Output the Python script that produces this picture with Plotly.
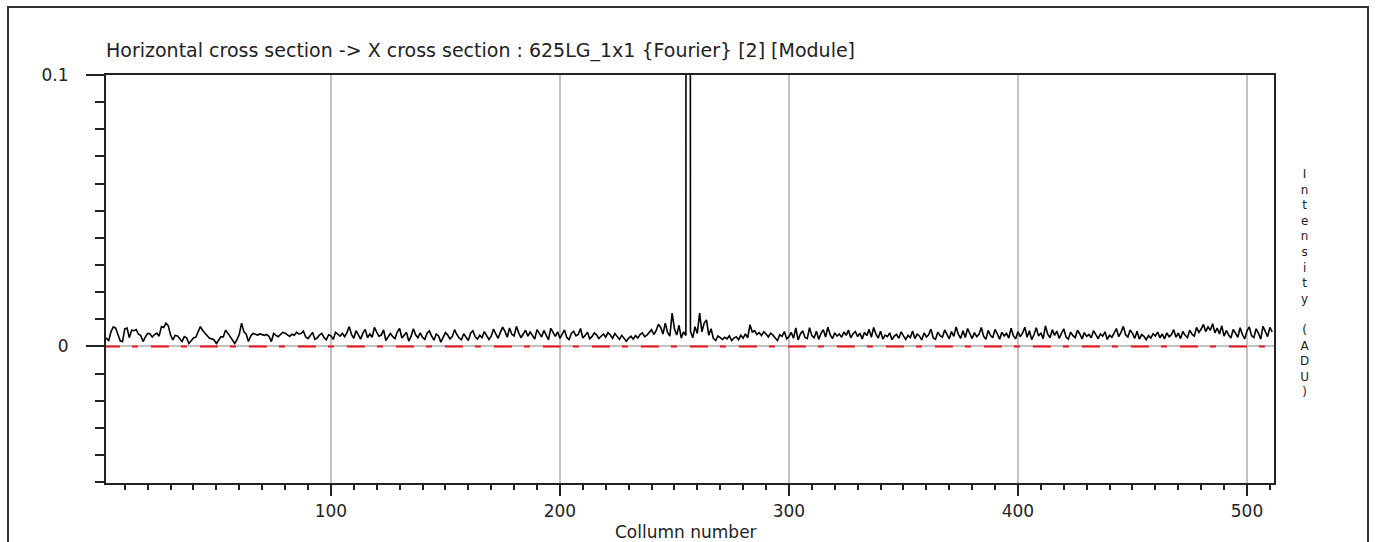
import numpy as np
import plotly.graph_objects as go

# Fourier module of the horizontal cross section, in milli-ADU, one value per column
module_mADU = [
    2.6, 2.4, 3.0, 2.2, 5.5, 7.2, 6.8, 4.0, 2.1, 1.8, 6.5, 6.8, 3.2, 6.0, 5.8, 6.2,
    4.5, 4.0, 1.8, 3.5, 4.8, 4.6, 3.5, 4.4, 4.9, 3.8, 7.3, 7.0, 8.6, 7.6, 4.2, 2.4,
    4.1, 3.9, 2.6, 1.8, 3.6, 3.2, 1.1, 2.0, 3.1, 3.4, 5.2, 7.3, 5.9, 4.8, 4.1, 3.0,
    2.8, 2.4, 1.1, 2.2, 3.6, 3.5, 6.0, 4.9, 3.6, 2.7, 1.1, 2.5, 4.5, 8.6, 5.4, 4.6,
    1.8, 3.9, 4.8, 4.5, 4.2, 4.6, 4.3, 4.1, 4.4, 3.7, 1.8, 4.8, 4.1, 3.6, 4.4, 5.2,
    4.9, 4.3, 3.7, 4.5, 4.1, 5.2, 4.6, 4.8, 5.6, 3.5, 2.9, 4.0, 5.2, 2.6, 3.1, 4.2,
    4.8, 3.3, 2.4, 4.3, 3.9, 2.6, 5.2, 4.5, 3.8, 4.8, 3.6, 5.1, 7.3, 4.4, 3.0, 5.8,
    4.1, 2.7, 5.0, 6.3, 3.2, 4.6, 3.4, 7.0, 5.3, 3.8, 4.2, 6.1, 2.2, 3.5, 4.8, 3.6,
    2.9, 5.4, 6.6, 3.1, 4.4, 5.2, 2.0, 3.7, 6.5, 4.3, 3.2, 5.0, 3.4, 2.6, 4.9, 5.7,
    3.8, 2.3, 4.6, 3.9, 1.6, 3.3, 5.1, 4.2, 2.8, 3.6, 6.2, 4.4, 3.1, 2.5, 4.7, 3.4,
    2.2, 4.9, 5.8, 3.6, 2.7, 4.1, 3.3, 5.5, 4.0, 2.6, 3.8, 6.4, 4.6, 3.0, 5.2, 7.1,
    5.6, 3.4, 6.8, 4.5, 3.9, 7.4, 5.0, 3.2, 4.6, 6.0, 3.8, 5.3, 4.1, 2.7, 6.2, 4.8,
    3.5, 5.9, 4.2, 2.4, 6.7, 4.9, 3.7, 5.4, 3.0, 4.5, 6.1, 3.3, 2.5, 4.8, 5.6, 3.9,
    4.4, 6.6, 3.1, 4.0, 5.3, 2.8, 3.6, 5.0, 4.3, 2.9, 3.8, 4.6, 3.4, 5.1, 4.2, 3.0,
    4.8, 3.5, 2.6, 4.1, 3.2, 1.9, 3.0, 3.8, 2.7, 4.0, 3.1, 4.4, 5.0, 3.6, 4.2, 5.3,
    6.2, 4.4, 5.8, 8.2, 7.0, 4.6, 8.6, 5.2, 3.8, 12.3, 6.5, 4.2, 7.8, 3.1, 5.4, 4.0,
    2500.0, 5.6, 3.2, 7.3, 4.8, 12.3, 5.4, 8.6, 9.8, 4.1, 6.5, 3.0, 2.2, 3.9, 3.3, 2.6,
    3.4, 2.8, 3.9, 2.2, 3.1, 3.6, 2.5, 4.1, 3.0, 4.6, 3.2, 8.0, 5.3, 5.8, 4.4, 5.1,
    4.0, 5.4, 4.6, 3.5, 4.9, 4.2, 3.1, 2.2, 4.3, 3.7, 5.5, 2.8, 3.6, 5.2, 3.0, 6.8,
    2.4, 4.6, 5.8, 3.3, 2.9, 6.9, 4.0, 3.2, 5.6, 2.6, 4.8, 6.2, 3.5, 7.1, 4.3, 2.9,
    5.0, 3.8, 4.6, 3.4, 5.3, 4.1, 6.0, 3.2, 4.7, 5.5, 3.6, 4.9, 2.8, 5.2, 4.0, 6.3,
    3.4, 7.0, 4.5, 3.1, 5.6, 2.7, 4.2, 3.6, 5.0, 2.5, 3.8, 4.4, 3.0, 5.4, 3.9, 2.6,
    4.1, 3.3, 5.7, 2.9, 4.6, 3.8, 2.4, 5.0, 3.5, 4.3, 6.4, 3.1, 2.6, 5.3, 4.0, 3.4,
    6.1, 4.2, 2.8, 5.5, 3.7, 7.2, 4.4, 3.0, 5.8, 3.3, 6.6, 4.7, 2.9, 5.1, 3.6, 4.5,
    7.0, 3.8, 2.6, 5.9, 4.1, 3.2, 6.3, 4.6, 2.7, 5.2, 3.9, 4.8, 3.1, 6.7, 4.0, 2.8,
    5.4, 3.6, 4.9, 7.1, 3.4, 5.8, 2.5, 4.3, 6.9, 3.8, 5.0, 2.9, 7.6, 4.5, 3.2, 6.2,
    4.1, 5.6, 3.0, 4.8, 6.5, 3.5, 2.7, 5.3, 4.0, 3.3, 6.0, 4.6, 2.8, 5.1, 3.7, 4.4,
    3.2, 5.8, 4.2, 2.9, 4.6, 3.8, 5.4, 2.6, 4.1, 3.4, 4.9, 6.6, 3.6, 5.2, 7.4, 4.3,
    3.5, 6.1, 4.8, 3.0, 5.6, 2.7, 4.4, 3.7, 2.5, 4.0, 3.1, 4.7, 3.9, 5.3, 3.2, 4.6,
    2.8, 5.0, 3.6, 4.3, 6.2, 3.4, 4.9, 2.9, 5.5, 4.1, 3.3, 6.0, 4.5, 3.8, 7.0, 5.2,
    6.4, 8.1, 5.5, 7.2, 6.0, 8.4, 5.0, 6.8, 4.6, 7.6, 3.8, 5.9, 4.2, 3.1, 6.3, 4.7,
    3.4, 6.9, 4.4, 2.8, 5.7, 7.2, 4.0, 3.3, 6.5, 4.9, 2.7, 7.4, 5.1, 3.6, 7.0, 5.4,
]
columns = np.arange(len(module_mADU))
intensity = np.array(module_mADU) / 1000.0

x_tick_values = [100, 200, 300, 400, 500]
y_tick_values = [0, 0.1]
y_tick_text = ["0", "0.1"]

title_text = "Horizontal cross section -> X cross section : 625LG_1x1 {Fourier} [2] [Module]"
x_title = "Collumn number"
y_title = "Intensity (ADU)"

W, H = 1376, 542
L, R, T, B = 106, 102, 75, 59
plot_w, plot_h = W - L - R, H - T - B

def px_x(p):
    return (p - L) / plot_w

def px_y(p):
    return (H - B - p) / plot_h

FONT = "DejaVu Sans"
TXT = "#222222"

fig = go.Figure()

# zero reference, red dash-dot
fig.add_trace(go.Scatter(
    x=[columns[0], columns[-1]], y=[0, 0], mode="lines",
    line=dict(color="#e8131b", width=2, dash="18px,12px,6px,13px"),
    hoverinfo="skip", showlegend=False,
))

# cross-section profile
fig.add_trace(go.Scatter(
    x=columns, y=intensity, mode="lines",
    line=dict(color="#000000", width=1.6),
    showlegend=False,
))

fig.update_xaxes(
    range=[1.8, 511.8],
    tickmode="array", tickvals=x_tick_values,
    ticks="outside", ticklen=11, tickwidth=2, tickcolor="#222222",
    minor=dict(dtick=10, tick0=0, ticks="outside", ticklen=5, tickwidth=2,
               tickcolor="#222222", showgrid=False),
    showgrid=True, gridcolor="#c2c2c2", gridwidth=2,
    zeroline=False,
    showline=True, linecolor="#222222", linewidth=2, mirror=True,
    tickfont=dict(family=FONT, size=17, color=TXT),
    ticklabelstandoff=1,
)
fig.update_yaxes(
    range=[-0.0503, 0.1],
    tickmode="array", tickvals=y_tick_values, ticktext=y_tick_text,
    ticks="outside", ticklen=18, tickwidth=2, tickcolor="#222222",
    minor=dict(dtick=0.01, tick0=0, ticks="outside", ticklen=9, tickwidth=2,
               tickcolor="#222222", showgrid=False),
    showgrid=False,
    zeroline=True, zerolinecolor="#c2c2c2", zerolinewidth=2,
    showline=True, linecolor="#222222", linewidth=2, mirror=True,
    tickfont=dict(family=FONT, size=17, color=TXT),
    ticklabelstandoff=14,
)

annotations = [
    dict(text=title_text, x=px_x(104), y=px_y(50), xref="paper", yref="paper",
         xanchor="left", yanchor="middle", showarrow=False,
         font=dict(family=FONT, size=19, color=TXT)),
    dict(text=x_title, x=px_x(686), y=px_y(532), xref="paper", yref="paper",
         xanchor="center", yanchor="middle", showarrow=False,
         font=dict(family=FONT, size=17, color=TXT)),
    # vertical label, one character per row
    dict(text="<br>".join(y_title), x=px_x(1305), y=px_y(283),
         xref="paper", yref="paper", xanchor="center", yanchor="middle",
         align="center", showarrow=False,
         font=dict(family=FONT, size=12, color=TXT)),
]

fig.update_layout(
    width=W, height=H,
    margin=dict(l=L, r=R, t=T, b=B, pad=0),
    paper_bgcolor="white", plot_bgcolor="white",
    annotations=annotations,
    shapes=[dict(type="rect", xref="paper", yref="paper",
                 x0=px_x(8), x1=px_x(1368), y0=px_y(560), y1=px_y(7),
                 line=dict(color="#333333", width=2), layer="below")],
    showlegend=False,
)

fig.write_html("out.html")
